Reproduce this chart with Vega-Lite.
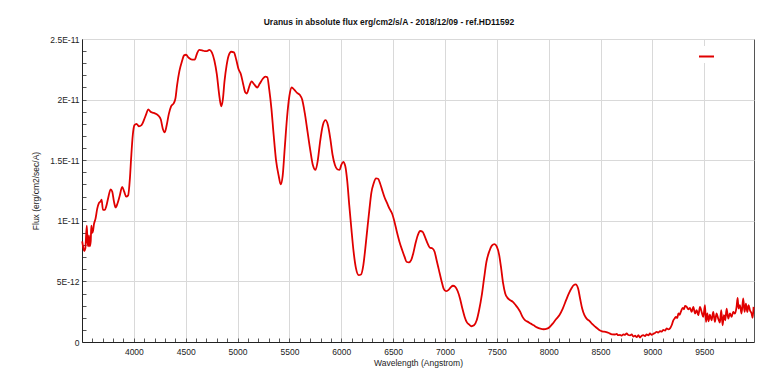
{
  "$schema": "https://vega.github.io/schema/vega-lite/v6.json",
  "width": 672,
  "height": 303,
  "autosize": {"type": "none"},
  "padding": {"left": 82, "top": 39, "right": 24, "bottom": 42},
  "background": "white",
  "title": {"text": "Uranus in absolute flux erg/cm2/s/A - 2018/12/09 - ref.HD11592", "font": "Liberation Sans", "fontSize": 8.5, "fontWeight": "bold", "color": "#111", "anchor": "middle", "dx": -29, "offset": 2, "baseline": "alphabetic"},
  "config": {
    "view": {"stroke": "#555", "strokeWidth": 1},
    "axis": {"labelFont": "Liberation Sans", "titleFont": "Liberation Sans", "labelFontSize": 8.5, "titleFontSize": 8.5, "titleFontWeight": "normal", "labelColor": "#222", "titleColor": "#222", "domainColor": "#222", "gridColor": "#d9d9d9", "gridWidth": 1}
  },
  "data": {"values": [
    {"wavelength": 3502, "flux": 8.3e-12},
    {"wavelength": 3512, "flux": 7.8e-12},
    {"wavelength": 3522, "flux": 7.5e-12},
    {"wavelength": 3532, "flux": 7.7e-12},
    {"wavelength": 3546, "flux": 9.6e-12},
    {"wavelength": 3553, "flux": 8.3e-12},
    {"wavelength": 3560, "flux": 7.9e-12},
    {"wavelength": 3567, "flux": 8.8e-12},
    {"wavelength": 3575, "flux": 7.9e-12},
    {"wavelength": 3584, "flux": 8.3e-12},
    {"wavelength": 3590, "flux": 9.6e-12},
    {"wavelength": 3598, "flux": 9.0e-12},
    {"wavelength": 3607, "flux": 9.2e-12},
    {"wavelength": 3615, "flux": 9.7e-12},
    {"wavelength": 3631, "flux": 10.2e-12},
    {"wavelength": 3647, "flux": 11.0e-12},
    {"wavelength": 3663, "flux": 11.45e-12},
    {"wavelength": 3679, "flux": 11.6e-12},
    {"wavelength": 3689, "flux": 11.75e-12},
    {"wavelength": 3702, "flux": 10.9e-12},
    {"wavelength": 3721, "flux": 10.9e-12},
    {"wavelength": 3734, "flux": 11.2e-12},
    {"wavelength": 3753, "flux": 11.9e-12},
    {"wavelength": 3776, "flux": 12.6e-12},
    {"wavelength": 3792, "flux": 12.4e-12},
    {"wavelength": 3808, "flux": 11.6e-12},
    {"wavelength": 3824, "flux": 11.1e-12},
    {"wavelength": 3843, "flux": 11.45e-12},
    {"wavelength": 3862, "flux": 12.0e-12},
    {"wavelength": 3888, "flux": 12.8e-12},
    {"wavelength": 3907, "flux": 12.4e-12},
    {"wavelength": 3926, "flux": 12.0e-12},
    {"wavelength": 3945, "flux": 12.1e-12},
    {"wavelength": 3962, "flux": 13.5e-12},
    {"wavelength": 3974, "flux": 15.2e-12},
    {"wavelength": 3990, "flux": 17.1e-12},
    {"wavelength": 4006, "flux": 17.9e-12},
    {"wavelength": 4026, "flux": 18.0e-12},
    {"wavelength": 4048, "flux": 17.8e-12},
    {"wavelength": 4074, "flux": 17.9e-12},
    {"wavelength": 4099, "flux": 18.35e-12},
    {"wavelength": 4119, "flux": 18.8e-12},
    {"wavelength": 4138, "flux": 19.2e-12},
    {"wavelength": 4160, "flux": 19.0e-12},
    {"wavelength": 4192, "flux": 18.9e-12},
    {"wavelength": 4234, "flux": 18.7e-12},
    {"wavelength": 4260, "flux": 18.35e-12},
    {"wavelength": 4279, "flux": 17.6e-12},
    {"wavelength": 4298, "flux": 17.3e-12},
    {"wavelength": 4317, "flux": 17.9e-12},
    {"wavelength": 4337, "flux": 18.8e-12},
    {"wavelength": 4359, "flux": 19.45e-12},
    {"wavelength": 4385, "flux": 19.7e-12},
    {"wavelength": 4401, "flux": 20.1e-12},
    {"wavelength": 4417, "flux": 21.2e-12},
    {"wavelength": 4439, "flux": 22.35e-12},
    {"wavelength": 4465, "flux": 23.2e-12},
    {"wavelength": 4484, "flux": 23.65e-12},
    {"wavelength": 4503, "flux": 23.7e-12},
    {"wavelength": 4529, "flux": 23.45e-12},
    {"wavelength": 4561, "flux": 23.3e-12},
    {"wavelength": 4587, "flux": 23.3e-12},
    {"wavelength": 4609, "flux": 23.8e-12},
    {"wavelength": 4631, "flux": 24.1e-12},
    {"wavelength": 4663, "flux": 24.05e-12},
    {"wavelength": 4683, "flux": 24.0e-12},
    {"wavelength": 4705, "flux": 24.0e-12},
    {"wavelength": 4728, "flux": 24.1e-12},
    {"wavelength": 4752, "flux": 23.9e-12},
    {"wavelength": 4777, "flux": 23.2e-12},
    {"wavelength": 4800, "flux": 22.1e-12},
    {"wavelength": 4823, "flux": 20.4e-12},
    {"wavelength": 4842, "flux": 19.45e-12},
    {"wavelength": 4858, "flux": 20.0e-12},
    {"wavelength": 4874, "flux": 21.5e-12},
    {"wavelength": 4894, "flux": 22.8e-12},
    {"wavelength": 4913, "flux": 23.6e-12},
    {"wavelength": 4939, "flux": 23.95e-12},
    {"wavelength": 4965, "flux": 23.9e-12},
    {"wavelength": 4987, "flux": 23.3e-12},
    {"wavelength": 5010, "flux": 22.5e-12},
    {"wavelength": 5032, "flux": 22.1e-12},
    {"wavelength": 5055, "flux": 21.25e-12},
    {"wavelength": 5074, "flux": 20.6e-12},
    {"wavelength": 5090, "flux": 20.5e-12},
    {"wavelength": 5110, "flux": 21.0e-12},
    {"wavelength": 5135, "flux": 21.5e-12},
    {"wavelength": 5161, "flux": 21.25e-12},
    {"wavelength": 5190, "flux": 21.0e-12},
    {"wavelength": 5213, "flux": 21.3e-12},
    {"wavelength": 5242, "flux": 21.7e-12},
    {"wavelength": 5268, "flux": 21.9e-12},
    {"wavelength": 5287, "flux": 21.85e-12},
    {"wavelength": 5306, "flux": 20.8e-12},
    {"wavelength": 5326, "flux": 19.3e-12},
    {"wavelength": 5348, "flux": 17.1e-12},
    {"wavelength": 5371, "flux": 15.0e-12},
    {"wavelength": 5397, "flux": 13.7e-12},
    {"wavelength": 5416, "flux": 13.0e-12},
    {"wavelength": 5435, "flux": 13.7e-12},
    {"wavelength": 5455, "flux": 16.0e-12},
    {"wavelength": 5477, "flux": 18.5e-12},
    {"wavelength": 5500, "flux": 20.3e-12},
    {"wavelength": 5522, "flux": 21.0e-12},
    {"wavelength": 5548, "flux": 20.8e-12},
    {"wavelength": 5574, "flux": 20.55e-12},
    {"wavelength": 5600, "flux": 20.4e-12},
    {"wavelength": 5623, "flux": 20.0e-12},
    {"wavelength": 5648, "flux": 18.9e-12},
    {"wavelength": 5674, "flux": 17.4e-12},
    {"wavelength": 5700, "flux": 15.9e-12},
    {"wavelength": 5726, "flux": 14.6e-12},
    {"wavelength": 5752, "flux": 14.2e-12},
    {"wavelength": 5774, "flux": 15.0e-12},
    {"wavelength": 5797, "flux": 16.6e-12},
    {"wavelength": 5823, "flux": 17.9e-12},
    {"wavelength": 5848, "flux": 18.3e-12},
    {"wavelength": 5871, "flux": 17.9e-12},
    {"wavelength": 5894, "flux": 16.8e-12},
    {"wavelength": 5916, "flux": 15.45e-12},
    {"wavelength": 5939, "flux": 14.6e-12},
    {"wavelength": 5961, "flux": 14.25e-12},
    {"wavelength": 5984, "flux": 14.2e-12},
    {"wavelength": 6000, "flux": 14.6e-12},
    {"wavelength": 6019, "flux": 14.85e-12},
    {"wavelength": 6039, "flux": 14.5e-12},
    {"wavelength": 6058, "flux": 13.25e-12},
    {"wavelength": 6077, "flux": 11.3e-12},
    {"wavelength": 6097, "flux": 9.4e-12},
    {"wavelength": 6119, "flux": 7.45e-12},
    {"wavelength": 6142, "flux": 6.07e-12},
    {"wavelength": 6168, "flux": 5.52e-12},
    {"wavelength": 6190, "flux": 5.57e-12},
    {"wavelength": 6213, "flux": 6.35e-12},
    {"wavelength": 6232, "flux": 7.73e-12},
    {"wavelength": 6252, "flux": 9.38e-12},
    {"wavelength": 6271, "flux": 10.9e-12},
    {"wavelength": 6290, "flux": 12.3e-12},
    {"wavelength": 6313, "flux": 13.1e-12},
    {"wavelength": 6335, "flux": 13.5e-12},
    {"wavelength": 6355, "flux": 13.47e-12},
    {"wavelength": 6374, "flux": 13.1e-12},
    {"wavelength": 6394, "flux": 12.55e-12},
    {"wavelength": 6419, "flux": 11.9e-12},
    {"wavelength": 6442, "flux": 11.45e-12},
    {"wavelength": 6465, "flux": 11.0e-12},
    {"wavelength": 6490, "flux": 10.6e-12},
    {"wavelength": 6513, "flux": 9.93e-12},
    {"wavelength": 6536, "flux": 9.1e-12},
    {"wavelength": 6561, "flux": 8.28e-12},
    {"wavelength": 6587, "flux": 7.59e-12},
    {"wavelength": 6610, "flux": 7.04e-12},
    {"wavelength": 6629, "flux": 6.62e-12},
    {"wavelength": 6652, "flux": 6.57e-12},
    {"wavelength": 6674, "flux": 6.76e-12},
    {"wavelength": 6694, "flux": 7.31e-12},
    {"wavelength": 6716, "flux": 8.14e-12},
    {"wavelength": 6739, "flux": 8.83e-12},
    {"wavelength": 6761, "flux": 9.16e-12},
    {"wavelength": 6784, "flux": 9.1e-12},
    {"wavelength": 6806, "flux": 8.69e-12},
    {"wavelength": 6832, "flux": 8.14e-12},
    {"wavelength": 6855, "flux": 7.78e-12},
    {"wavelength": 6877, "flux": 7.73e-12},
    {"wavelength": 6900, "flux": 7.45e-12},
    {"wavelength": 6919, "flux": 6.76e-12},
    {"wavelength": 6942, "flux": 5.93e-12},
    {"wavelength": 6965, "flux": 5.1e-12},
    {"wavelength": 6987, "flux": 4.41e-12},
    {"wavelength": 7010, "flux": 4.19e-12},
    {"wavelength": 7032, "flux": 4.28e-12},
    {"wavelength": 7055, "flux": 4.5e-12},
    {"wavelength": 7077, "flux": 4.64e-12},
    {"wavelength": 7100, "flux": 4.55e-12},
    {"wavelength": 7123, "flux": 4.19e-12},
    {"wavelength": 7145, "flux": 3.59e-12},
    {"wavelength": 7168, "flux": 2.76e-12},
    {"wavelength": 7190, "flux": 2.07e-12},
    {"wavelength": 7213, "flux": 1.6e-12},
    {"wavelength": 7232, "flux": 1.45e-12},
    {"wavelength": 7255, "flux": 1.3e-12},
    {"wavelength": 7280, "flux": 1.38e-12},
    {"wavelength": 7306, "flux": 1.79e-12},
    {"wavelength": 7329, "flux": 2.62e-12},
    {"wavelength": 7355, "flux": 3.86e-12},
    {"wavelength": 7377, "flux": 5.24e-12},
    {"wavelength": 7400, "flux": 6.62e-12},
    {"wavelength": 7426, "flux": 7.45e-12},
    {"wavelength": 7452, "flux": 7.95e-12},
    {"wavelength": 7477, "flux": 8.08e-12},
    {"wavelength": 7500, "flux": 7.86e-12},
    {"wavelength": 7523, "flux": 7.17e-12},
    {"wavelength": 7542, "flux": 6.07e-12},
    {"wavelength": 7561, "flux": 4.83e-12},
    {"wavelength": 7581, "flux": 4.0e-12},
    {"wavelength": 7603, "flux": 3.64e-12},
    {"wavelength": 7629, "flux": 3.45e-12},
    {"wavelength": 7655, "flux": 3.31e-12},
    {"wavelength": 7677, "flux": 3.09e-12},
    {"wavelength": 7703, "flux": 2.81e-12},
    {"wavelength": 7726, "flux": 2.48e-12},
    {"wavelength": 7748, "flux": 2.07e-12},
    {"wavelength": 7774, "flux": 1.79e-12},
    {"wavelength": 7800, "flux": 1.66e-12},
    {"wavelength": 7826, "flux": 1.52e-12},
    {"wavelength": 7855, "flux": 1.38e-12},
    {"wavelength": 7887, "flux": 1.21e-12},
    {"wavelength": 7919, "flux": 1.1e-12},
    {"wavelength": 7952, "flux": 1.05e-12},
    {"wavelength": 7984, "flux": 1.1e-12},
    {"wavelength": 8010, "flux": 1.24e-12},
    {"wavelength": 8039, "flux": 1.52e-12},
    {"wavelength": 8071, "flux": 1.88e-12},
    {"wavelength": 8103, "flux": 2.21e-12},
    {"wavelength": 8136, "flux": 2.76e-12},
    {"wavelength": 8168, "flux": 3.45e-12},
    {"wavelength": 8194, "flux": 4.0e-12},
    {"wavelength": 8219, "flux": 4.41e-12},
    {"wavelength": 8242, "flux": 4.69e-12},
    {"wavelength": 8260, "flux": 4.75e-12},
    {"wavelength": 8284, "flux": 4.41e-12},
    {"wavelength": 8303, "flux": 3.59e-12},
    {"wavelength": 8323, "flux": 2.76e-12},
    {"wavelength": 8345, "flux": 2.21e-12},
    {"wavelength": 8371, "flux": 1.88e-12},
    {"wavelength": 8397, "flux": 1.71e-12},
    {"wavelength": 8419, "flux": 1.49e-12},
    {"wavelength": 8452, "flux": 1.24e-12},
    {"wavelength": 8484, "flux": 1.02e-12},
    {"wavelength": 8516, "flux": 0.88e-12},
    {"wavelength": 8548, "flux": 0.83e-12},
    {"wavelength": 8581, "flux": 0.74e-12},
    {"wavelength": 8610, "flux": 0.63e-12},
    {"wavelength": 8640, "flux": 0.62e-12},
    {"wavelength": 8656, "flux": 0.66e-12},
    {"wavelength": 8670, "flux": 0.56e-12},
    {"wavelength": 8688, "flux": 0.58e-12},
    {"wavelength": 8704, "flux": 0.52e-12},
    {"wavelength": 8720, "flux": 0.63e-12},
    {"wavelength": 8736, "flux": 0.6e-12},
    {"wavelength": 8752, "flux": 0.71e-12},
    {"wavelength": 8768, "flux": 0.58e-12},
    {"wavelength": 8785, "flux": 0.55e-12},
    {"wavelength": 8800, "flux": 0.62e-12},
    {"wavelength": 8817, "flux": 0.45e-12},
    {"wavelength": 8833, "flux": 0.52e-12},
    {"wavelength": 8849, "flux": 0.4e-12},
    {"wavelength": 8865, "flux": 0.57e-12},
    {"wavelength": 8881, "flux": 0.37e-12},
    {"wavelength": 8897, "flux": 0.52e-12},
    {"wavelength": 8913, "flux": 0.56e-12},
    {"wavelength": 8929, "flux": 0.48e-12},
    {"wavelength": 8945, "flux": 0.62e-12},
    {"wavelength": 8961, "flux": 0.55e-12},
    {"wavelength": 8977, "flux": 0.7e-12},
    {"wavelength": 8993, "flux": 0.6e-12},
    {"wavelength": 9010, "flux": 0.68e-12},
    {"wavelength": 9026, "flux": 0.75e-12},
    {"wavelength": 9042, "flux": 0.84e-12},
    {"wavelength": 9058, "flux": 0.78e-12},
    {"wavelength": 9074, "flux": 0.9e-12},
    {"wavelength": 9090, "flux": 0.86e-12},
    {"wavelength": 9106, "flux": 0.99e-12},
    {"wavelength": 9122, "flux": 0.95e-12},
    {"wavelength": 9138, "flux": 1.12e-12},
    {"wavelength": 9154, "flux": 1.04e-12},
    {"wavelength": 9170, "flux": 1.12e-12},
    {"wavelength": 9186, "flux": 1.38e-12},
    {"wavelength": 9202, "flux": 1.79e-12},
    {"wavelength": 9215, "flux": 1.95e-12},
    {"wavelength": 9228, "flux": 2.07e-12},
    {"wavelength": 9240, "flux": 1.98e-12},
    {"wavelength": 9251, "flux": 2.35e-12},
    {"wavelength": 9262, "flux": 2.25e-12},
    {"wavelength": 9274, "flux": 2.48e-12},
    {"wavelength": 9293, "flux": 2.81e-12},
    {"wavelength": 9305, "flux": 2.7e-12},
    {"wavelength": 9315, "flux": 2.98e-12},
    {"wavelength": 9331, "flux": 2.9e-12},
    {"wavelength": 9347, "flux": 2.7e-12},
    {"wavelength": 9363, "flux": 2.81e-12},
    {"wavelength": 9379, "flux": 2.48e-12},
    {"wavelength": 9395, "flux": 2.9e-12},
    {"wavelength": 9411, "flux": 2.35e-12},
    {"wavelength": 9427, "flux": 2.62e-12},
    {"wavelength": 9443, "flux": 2.21e-12},
    {"wavelength": 9459, "flux": 2.9e-12},
    {"wavelength": 9475, "flux": 2.48e-12},
    {"wavelength": 9491, "flux": 2.07e-12},
    {"wavelength": 9507, "flux": 3.04e-12},
    {"wavelength": 9517, "flux": 1.66e-12},
    {"wavelength": 9530, "flux": 2.35e-12},
    {"wavelength": 9542, "flux": 1.71e-12},
    {"wavelength": 9555, "flux": 2.26e-12},
    {"wavelength": 9571, "flux": 1.79e-12},
    {"wavelength": 9587, "flux": 2.48e-12},
    {"wavelength": 9603, "flux": 1.66e-12},
    {"wavelength": 9619, "flux": 2.35e-12},
    {"wavelength": 9635, "flux": 1.93e-12},
    {"wavelength": 9651, "flux": 1.6e-12},
    {"wavelength": 9664, "flux": 2.62e-12},
    {"wavelength": 9677, "flux": 1.38e-12},
    {"wavelength": 9690, "flux": 2.21e-12},
    {"wavelength": 9703, "flux": 1.79e-12},
    {"wavelength": 9716, "flux": 2.76e-12},
    {"wavelength": 9732, "flux": 1.93e-12},
    {"wavelength": 9748, "flux": 2.35e-12},
    {"wavelength": 9764, "flux": 2.07e-12},
    {"wavelength": 9780, "flux": 2.48e-12},
    {"wavelength": 9796, "flux": 2.35e-12},
    {"wavelength": 9812, "flux": 2.9e-12},
    {"wavelength": 9822, "flux": 3.64e-12},
    {"wavelength": 9831, "flux": 2.76e-12},
    {"wavelength": 9844, "flux": 3.04e-12},
    {"wavelength": 9860, "flux": 2.35e-12},
    {"wavelength": 9876, "flux": 3.59e-12},
    {"wavelength": 9889, "flux": 2.48e-12},
    {"wavelength": 9902, "flux": 3.17e-12},
    {"wavelength": 9915, "flux": 2.48e-12},
    {"wavelength": 9928, "flux": 3.04e-12},
    {"wavelength": 9941, "flux": 2.62e-12},
    {"wavelength": 9957, "flux": 2.35e-12},
    {"wavelength": 9967, "flux": 1.99e-12},
    {"wavelength": 9976, "flux": 2.9e-12}
  ]},
  "layer": [
    {
      "mark": {"type": "line", "strokeOpacity": 0},
      "encoding": {
        "x": {"field": "wavelength", "type": "quantitative", "scale": {"domain": [3500, 9980], "nice": false, "zero": false},
          "axis": {"orient": "bottom", "values": [3600,3700,3800,3900,4000,4100,4200,4300,4400,4500,4600,4700,4800,4900,5000,5100,5200,5300,5400,5500,5600,5700,5800,5900,6000,6100,6200,6300,6400,6500,6600,6700,6800,6900,7000,7100,7200,7300,7400,7500,7600,7700,7800,7900,8000,8100,8200,8300,8400,8500,8600,8700,8800,8900,9000,9100,9200,9300,9400,9500,9600,9700,9800,9900],
            "labels": false, "grid": false, "domain": false, "title": null, "ticks": true, "tickSize": -4, "tickColor": "#555"}},
        "y": {"field": "flux", "type": "quantitative", "scale": {"domain": [0, 2.5e-11], "nice": false},
          "axis": {"orient": "left", "values": [1e-12,2e-12,3e-12,4e-12,5e-12,6e-12,7e-12,8e-12,9e-12,1e-11,1.1e-11,1.2e-11,1.3e-11,1.4e-11,1.5e-11,1.6e-11,1.7e-11,1.8e-11,1.9e-11,2e-11,2.1e-11,2.2e-11,2.3e-11,2.4e-11],
            "labels": false, "grid": false, "domain": false, "title": null, "ticks": true, "tickSize": -4, "tickColor": "#555"}}
      }
    },
    {
      "mark": {"type": "line", "strokeWidth": 1.8, "interpolate": "monotone"},
      "encoding": {
        "x": {"field": "wavelength", "type": "quantitative", "scale": {"domain": [3500, 9980], "nice": false, "zero": false},
          "axis": {"orient": "bottom", "values": [4000,4500,5000,5500,6000,6500,7000,7500,8000,8500,9000,9500], "format": "d", "title": "Wavelength (Angstrom)", "grid": true, "ticks": false, "labelPadding": 5, "titlePadding": 3, "labelFlush": false}},
        "y": {"field": "flux", "type": "quantitative", "scale": {"domain": [0, 2.5e-11], "nice": false},
          "axis": {"orient": "left", "values": [0, 5e-12, 1e-11, 1.5e-11, 2e-11, 2.5e-11], "title": "Flux (erg/cm2/sec/A)", "grid": true, "ticks": false, "labelPadding": 3, "titlePadding": 9, "labelFlush": false,
            "labelExpr": "datum.value == 0 ? '0' : replace(format(datum.value, '.2~e'), 'e', 'E')"}},
        "color": {"datum": "Uranus", "type": "nominal", "scale": {"range": ["#e00000"]},
          "legend": {"orient": "none", "legendX": 614, "legendY": 7, "title": null, "symbolType": "stroke", "symbolStrokeWidth": 2, "symbolSize": 225, "labelExpr": "''", "fillColor": "white", "padding": 2, "labelFontSize": 1, "labelLimit": 1}}
      }
    }
  ],
  "resolve": {"axis": {"x": "independent", "y": "independent"}}
}
